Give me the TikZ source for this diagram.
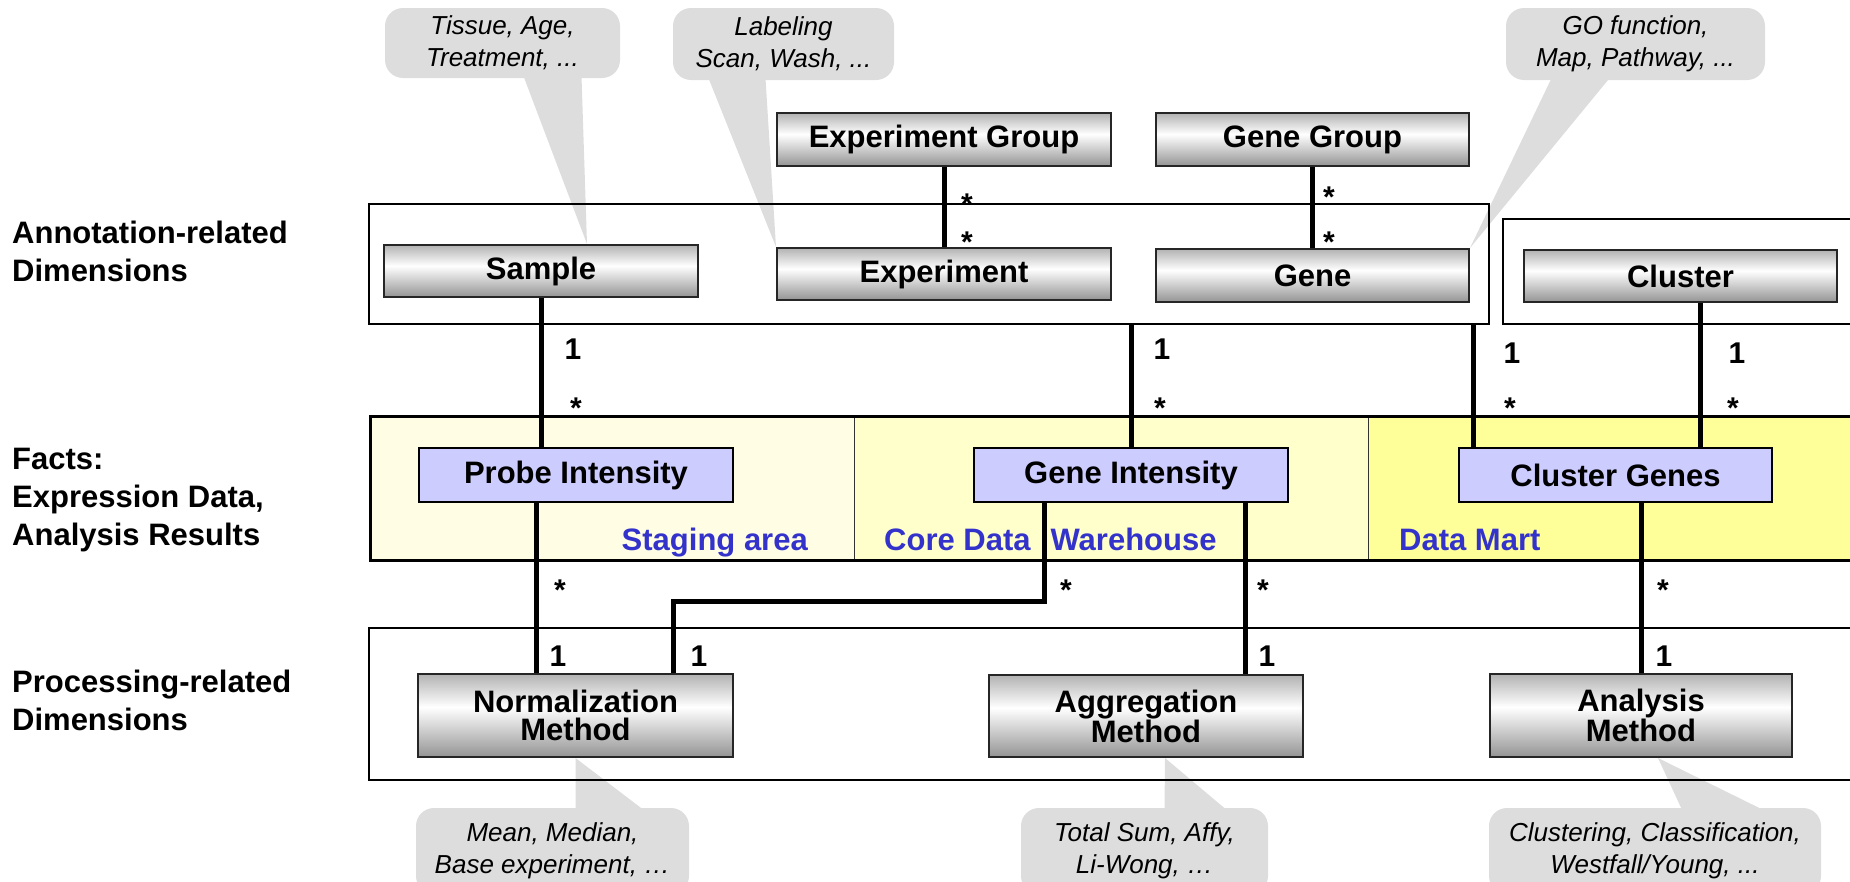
\documentclass[tikz,border=0pt]{standalone}
\usepackage{fontspec}
\setmainfont{Liberation Sans}
\pgfdeclarelayer{background}
\pgfsetlayers{background,main}
\definecolor{notegray}{HTML}{DDDDDD}
\definecolor{factblue}{HTML}{CCCCFF}
\definecolor{areablue}{HTML}{3333CC}
\definecolor{stagefill}{HTML}{FFFDE4}
\definecolor{corefill}{HTML}{FFFFCC}
\definecolor{martfill}{HTML}{FFFF99}
\pgfdeclareverticalshading{metal}{100bp}{color(0bp)=(black!42); color(25bp)=(black!42);
   color(55bp)=(white); color(75bp)=(black!30); color(100bp)=(black!30)}

\begin{document}
\begin{tikzpicture}[x=1pt, y=-1pt,
         link/.style={line width=5pt},
         frame/.style={draw, line width=2.5pt},
         dim box/.style={draw=black!85, line width=2pt, shade, shading=metal, inner sep=0pt,
            align=center, font=\bfseries\fontsize{31}{28}\selectfont},
         fact box/.style={draw, line width=2pt, fill=factblue, inner sep=0pt,
            minimum width=314pt, minimum height=54pt, font=\bfseries\fontsize{31}{31}\selectfont},
         note/.style={fill=notegray, rounded corners=18pt, inner sep=0pt, align=center,
            font=\itshape\fontsize{26}{32}\selectfont},
         mult/.style={anchor=base, inner sep=0pt, font=\bfseries\fontsize{30}{30}\selectfont},
         area name/.style={inner sep=0pt, text=areablue, font=\bfseries\fontsize{31}{31}\selectfont},
         row label/.style={anchor=west, align=left, inner sep=0pt,
            font=\bfseries\fontsize{31}{38}\selectfont}
      ]
   \useasboundingbox (0,0) rectangle (1850,881);

   % row titles
   \node[row label] (annotL) at (12,251) {Annotation-related\\Dimensions};
   \node[row label] (factsL) at (12,500) {Facts:\\Expression Data,\\Analysis Results};
   \node[row label] (procL) at (12,700) {Processing-related\\Dimensions};

   % annotation-related dimensions
   \node[frame, inner sep=0pt, minimum width=1120pt, minimum height=120pt] (annot) at (929,264) {};
   \draw[frame] (1880,219) -| (1503,324) -- (1880,324);

   \node[dim box, minimum width=314pt, minimum height=52pt] (sample) at (541,271) {Sample};
   \node[dim box, minimum width=334pt, minimum height=53pt] (expgroup) at (944,139.5) {Experiment Group};
   \node[dim box, minimum width=334pt, minimum height=52pt] (experiment) at (944,274) {Experiment};
   \node[dim box, minimum width=313pt, minimum height=53pt] (genegroup) at (1312.5,139.5) {Gene Group};
   \node[dim box, minimum width=313pt, minimum height=53pt] (gene) at (1312.5,275.5) {Gene};
   \node[dim box, minimum width=313pt, minimum height=52pt] (cluster) at (1680.5,276) {Cluster};

   % facts
   \draw[black!80, line width=1pt] (854,416) -- (854,560) (1368,416) -- (1368,560);
   \draw[frame, line width=3pt] (1880,416) -| (370,560) -- (1880,560);

   \node[fact box] (probe) at (576,475) {Probe Intensity};
   \node[fact box] (geneint) at (1131,475) {Gene Intensity};
   \node[fact box, minimum width=313pt] (clgenes) at (1615.5,475) {Cluster Genes};

   \node[area name, anchor=base east] (staging) at (808,550) {Staging area};
   \node[area name, anchor=base west] (core) at (884,550) {Core Data\hspace{20pt}Warehouse};
   \node[area name, anchor=base west] (mart) at (1399,550) {Data Mart};

   % processing-related dimensions
   \draw[frame] (1880,628) -| (369,780) -- (1880,780);

   \node[dim box, minimum width=315pt, minimum height=83pt] (norm) at (575.5,715.5) {Normalization\\Method};
   \node[dim box, minimum width=314pt, minimum height=82pt] (aggr) at (1146,716) {Aggregation\\Method};
   \node[dim box, minimum width=302pt, minimum height=83pt] (analysis) at (1641,715.5) {Analysis\\Method};

   \begin{scope}[link]
      \draw (expgroup.south) -- (experiment.north);
      \draw (genegroup.south) -- (gene.north);
      \draw (sample.south) -- (sample.south |- probe.north);
      \draw (geneint.north |- annot.south) -- (geneint.north);
      \draw ([xshift=15pt]clgenes.north west |- annot.south) -- ([xshift=15pt]clgenes.north west);
      \draw ([xshift=20pt]cluster.south) -- ([xshift=20pt]cluster.south |- clgenes.north);
      \draw ([xshift=-40pt]probe.south) -- ([xshift=-40pt]probe.south |- norm.north);
      \draw ([xshift=-87pt]geneint.south) -- ++(0,98) -| ([xshift=-61pt]norm.north east);
      \draw ([xshift=114pt]geneint.south) -- ([xshift=114pt]geneint.south |- aggr.north);
      \draw (analysis.north |- clgenes.south) -- (analysis.north);
   \end{scope}

   % multiplicities
   \node[mult] (mEG1) at (967,214) {*};
   \node[mult] (mEG2) at (967,252) {*};
   \node[mult] (mGG1) at (1329,207) {*};
   \node[mult] (mGG2) at (1329,252) {*};
   \node[mult] (mSP1) at (573,359) {1};
   \node[mult] (mSP2) at (576,418) {*};
   \node[mult] (mAG1) at (1162,359) {1};
   \node[mult] (mAG2) at (1160,418) {*};
   \node[mult] (mAC1) at (1512,363) {1};
   \node[mult] (mAC2) at (1510,418) {*};
   \node[mult] (mCC1) at (1737,363) {1};
   \node[mult] (mCC2) at (1733,418) {*};
   \node[mult] (mPN1) at (560,600) {*};
   \node[mult] (mPN2) at (558,666) {1};
   \node[mult] (mGN1) at (1066,600) {*};
   \node[mult] (mGN2) at (699,666) {1};
   \node[mult] (mGA1) at (1263,600) {*};
   \node[mult] (mGA2) at (1267,666) {1};
   \node[mult] (mCA1) at (1663,600) {*};
   \node[mult] (mCA2) at (1664,666) {1};

   \begin{pgfonlayer}{background}
      \fill[stagefill] (370,416) rectangle (854,560);
      \fill[corefill] (854,416) rectangle (1368,560);
      \fill[martfill] (1368,416) rectangle (1880,560);

      % callouts
      \node[note, minimum width=235pt, minimum height=70pt] (tissue) at (502.5,43) {Tissue, Age,\\Treatment, ...};
      \node[note, minimum width=221pt, minimum height=72pt] (labeling) at (783.5,44) {Labeling\\Scan, Wash, ...};
      \node[note, minimum width=259pt, minimum height=72pt] (gofunc) at (1635.5,44) {GO function,\\Map, Pathway, ...};
      \node[note, minimum width=273pt, minimum height=86pt] (mean) at (552.5,851) {Mean, Median,\\Base experiment, …};
      \node[note, minimum width=247pt, minimum height=86pt] (totsum) at (1144.5,851) {Total Sum, Affy,\\Li-Wong, …};
      \node[note, minimum width=332pt, minimum height=86pt] (clustering) at (1655,851) {Clustering, Classification,\\Westfall/Young, ...};

      \fill[notegray] ([xshift=21pt,yshift=2pt]tissue.south) -- ([xshift=79pt,yshift=2pt]tissue.south) -- ([xshift=46pt]sample.north) -- cycle;
      \fill[notegray] ([xshift=-75pt,yshift=2pt]labeling.south) -- ([xshift=-18pt,yshift=2pt]labeling.south) -- (experiment.north west) -- cycle;
      \fill[notegray] ([xshift=-84pt,yshift=2pt]gofunc.south) -- ([xshift=-26pt,yshift=2pt]gofunc.south) -- (gene.north east) -- cycle;
      \fill[notegray] (norm.south) -- ([xshift=23pt,yshift=-2pt]mean.north) -- ([xshift=91pt,yshift=-2pt]mean.north) -- cycle;
      \fill[notegray] ([xshift=19pt]aggr.south) -- ([xshift=20pt,yshift=-2pt]totsum.north) -- ([xshift=82pt,yshift=-2pt]totsum.north) -- cycle;
      \fill[notegray] ([xshift=17pt]analysis.south) -- ([xshift=27pt,yshift=-2pt]clustering.north) -- ([xshift=108pt,yshift=-2pt]clustering.north) -- cycle;
   \end{pgfonlayer}
\end{tikzpicture}
\end{document}
